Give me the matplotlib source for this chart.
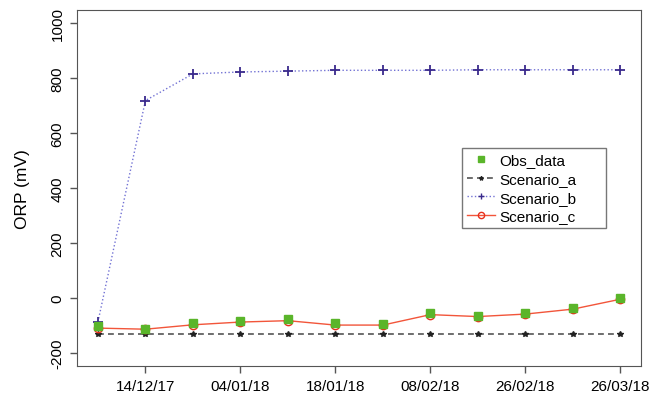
import matplotlib
matplotlib.use("Agg")
import matplotlib.pyplot as plt
from matplotlib.lines import Line2D

plt.rcParams['font.family'] = ['Liberation Sans', 'DejaVu Sans']

# sample index (equally spaced on the x axis) and labelled dates
idx = [1, 2, 3, 4, 5, 6, 7, 8, 9, 10, 11, 12]
tick_pos = [2, 4, 6, 8, 10, 12]
tick_labels = ['14/12/17', '04/01/18', '18/01/18', '08/02/18', '26/02/18', '26/03/18']

obs = [-104, -114, -93, -84, -78, -93, -95, -56, -65, -55, -37, -1]
scen_a = [-133, -133, -133, -133, -133, -133, -133, -133, -133, -133, -133, -133]
scen_b = [-88, 718, 815, 822, 825, 828, 828, 828, 830, 830, 830, 830]
scen_c = [-110, -114, -98, -88, -83, -99, -99, -61, -68, -59, -41, -5]

a_style = dict(linestyle=(0, (3.5, 2.5)), color='#555555', lw=1.2,
               marker='*', mfc='#222222', mec='#222222')
b_style = dict(linestyle=':', color='#7272d4', lw=1,
               marker='+', mec='#3a2a8c')
c_style = dict(linestyle='-', color='#f2553a', lw=1,
               marker='o', mfc='none', mec='#e8301c', mew=1)
o_style = dict(linestyle='none', marker='s', color='#5ab52a')

fig = plt.figure(figsize=(6.5, 4.02), dpi=100)
ax = fig.add_axes([0.1185, 0.087, 0.868, 0.886])

ax.plot(idx, scen_a, ms=4, **a_style)
ax.plot(idx, scen_b, ms=6.5, mew=1.3, **b_style)
ax.plot(idx, scen_c, ms=6, **c_style)
ax.plot(idx, obs, ms=5.5, zorder=3, **o_style)

ax.set_xlim(0.56, 12.44)
ax.set_ylim(-248, 1048)
ax.set_xticks(tick_pos)
ax.set_xticklabels(tick_labels, fontsize=11)
ax.set_yticks([-200, 0, 200, 400, 600, 800, 1000])
ax.set_yticklabels(['-200', '0', '200', '400', '600', '800', '1000'],
                   rotation=90, va='center', fontsize=11)
ax.set_ylabel('ORP (mV)', fontsize=12.5, labelpad=15)
ax.tick_params(length=5, width=1, color='#555555', pad=4)
for s in ax.spines.values():
    s.set_color('#555555')

handles = [Line2D([], [], ms=5, **o_style),
           Line2D([], [], ms=3, **a_style),
           Line2D([], [], ms=5, mew=1, **b_style),
           Line2D([], [], ms=4.5, **c_style)]
labels = ['Obs_data', 'Scenario_a', 'Scenario_b', 'Scenario_c']
leg = ax.legend(handles, labels, mode='expand',
                loc='upper left', bbox_to_anchor=(0.6826, 0.382, 0.2553, 0.230),
                fontsize=11, frameon=True, fancybox=False,
                handlelength=1.8, handletextpad=0.3, borderpad=0.35,
                labelspacing=0.3, borderaxespad=0)
leg.get_frame().set_edgecolor('#555555')
leg.get_frame().set_linewidth(1)

fig.savefig('out.png', dpi=100)
